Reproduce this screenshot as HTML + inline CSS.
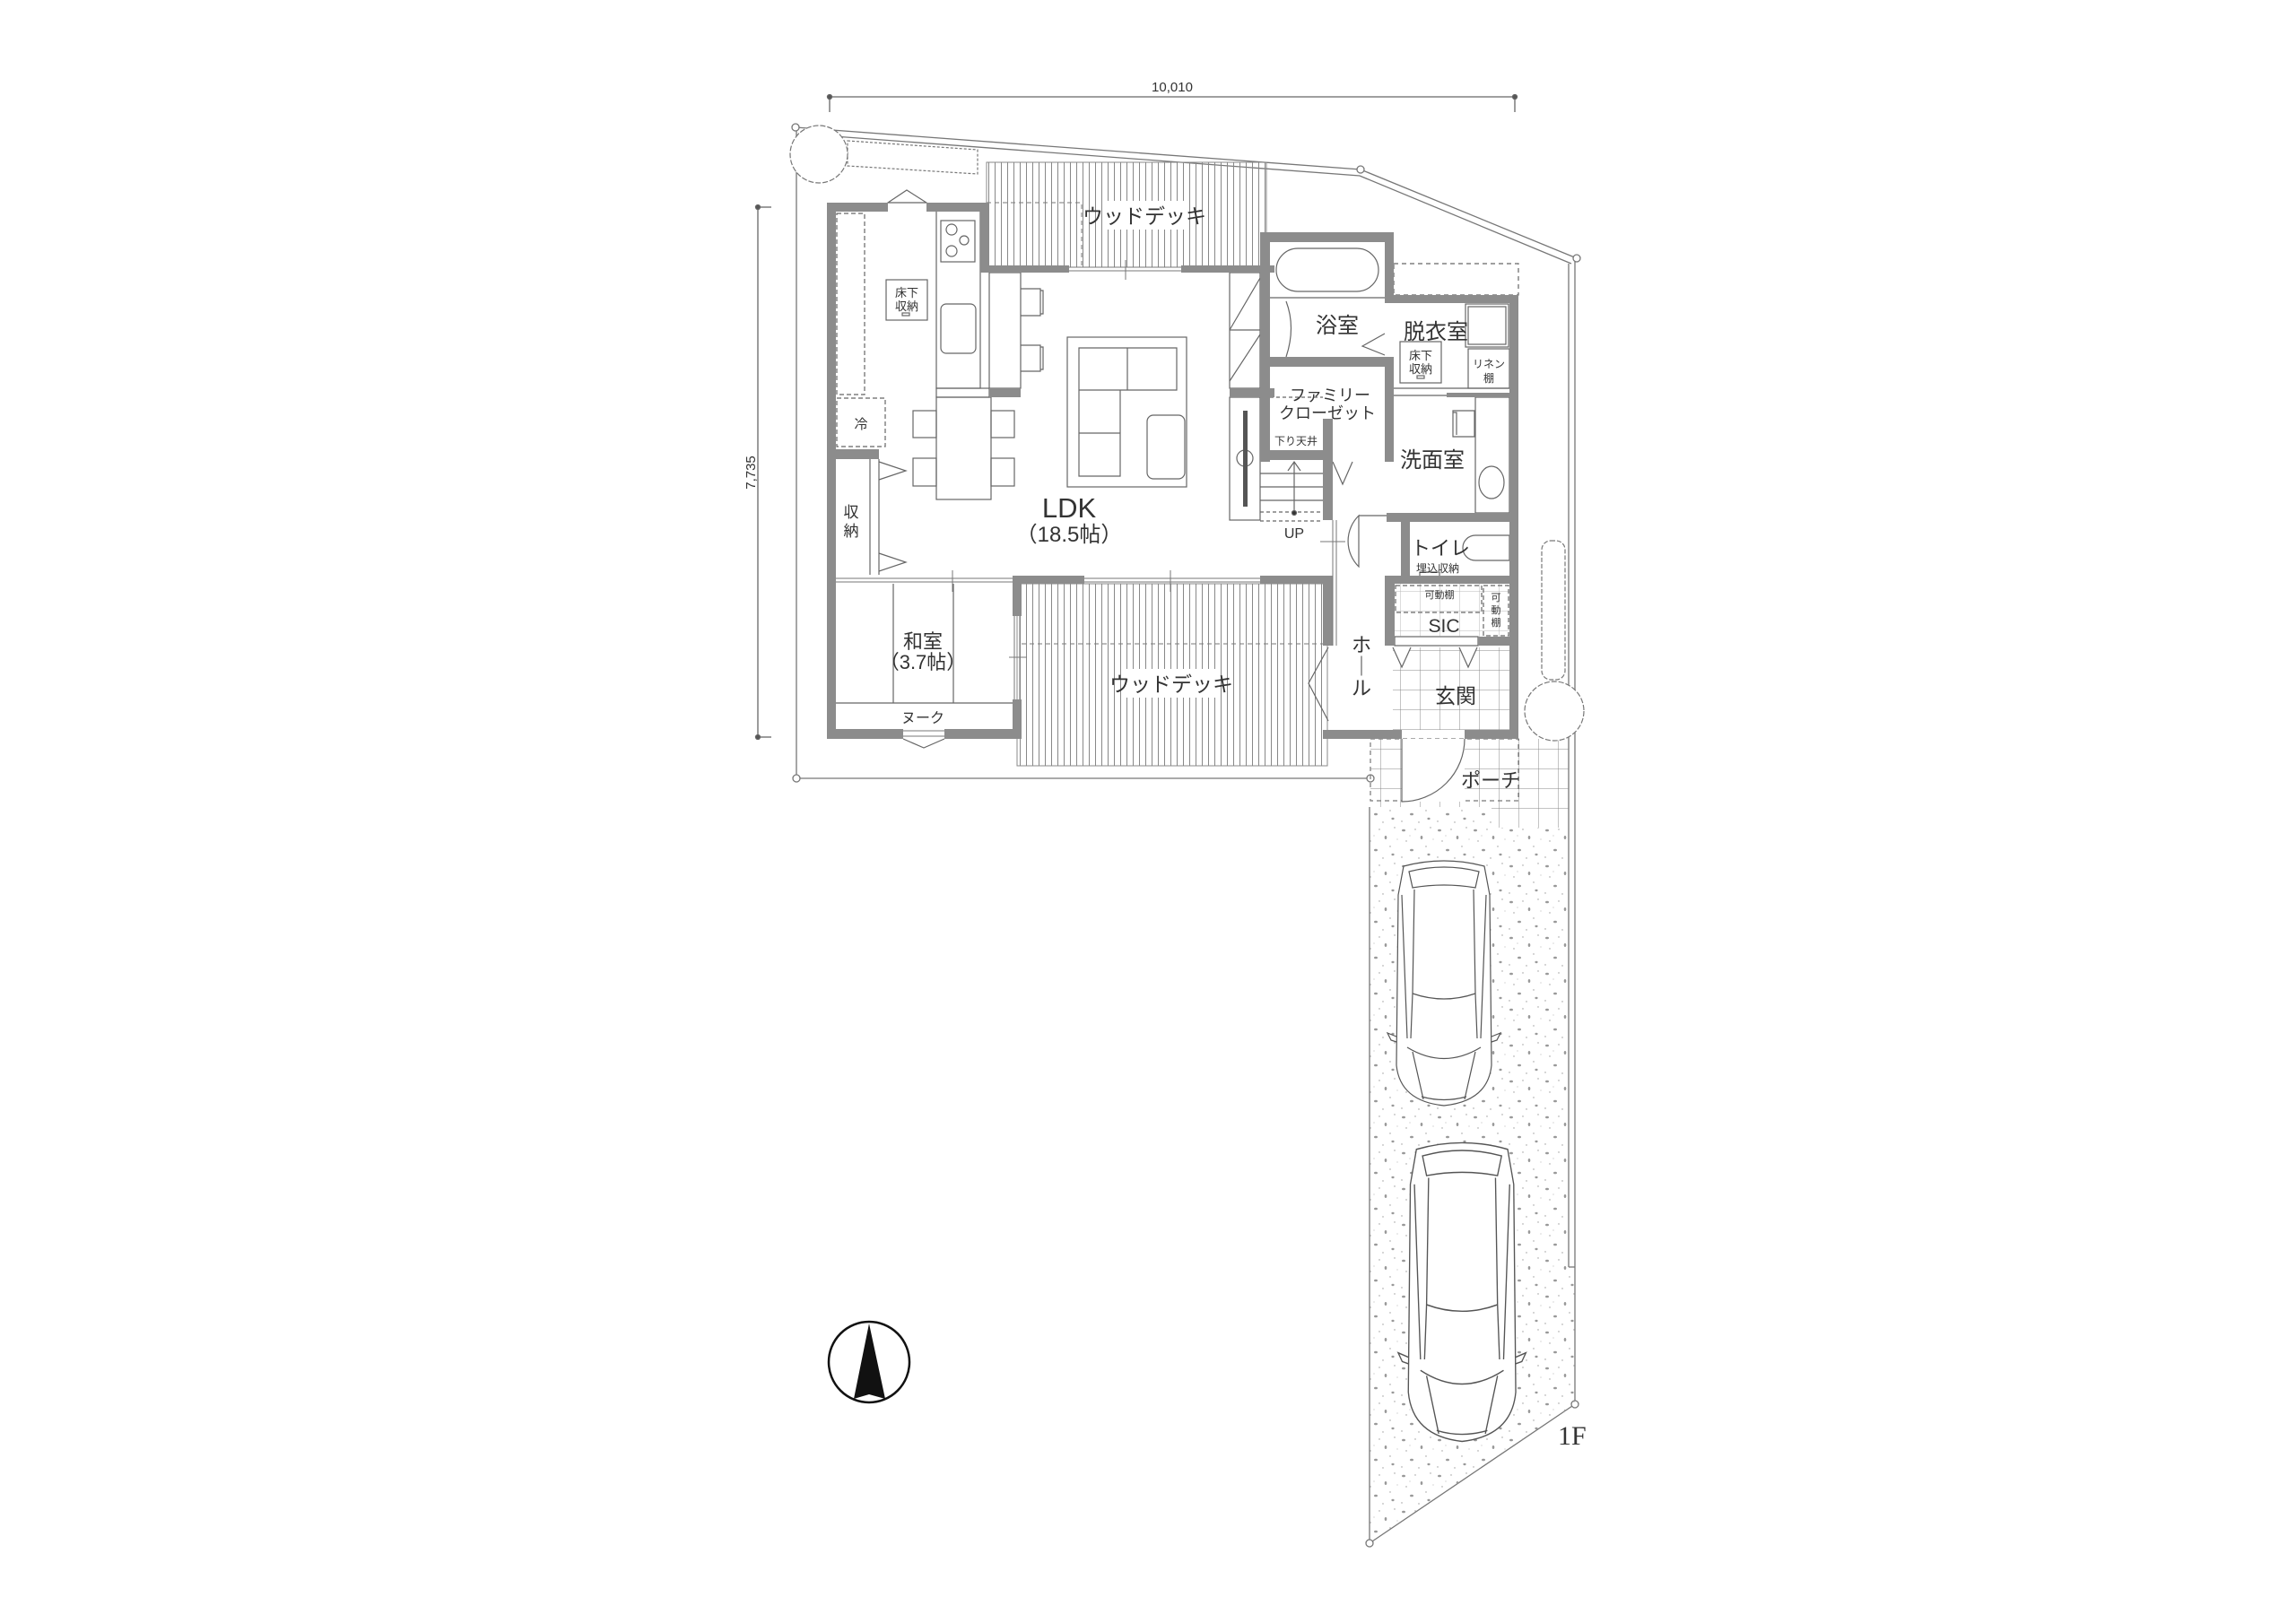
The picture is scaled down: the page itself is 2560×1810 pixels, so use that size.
<!DOCTYPE html>
<html><head><meta charset="utf-8"><style>
html,body{margin:0;padding:0;background:#fff}
svg{display:block}
text{font-family:"Liberation Sans","Noto Sans CJK JP",sans-serif;fill:#333}
</style></head><body>
<svg width="2560" height="1810" viewBox="0 0 2560 1810" xmlns="http://www.w3.org/2000/svg">
<defs>
<pattern id="deck" width="7" height="10" patternUnits="userSpaceOnUse"><line x1="3.5" y1="0" x2="3.5" y2="10" stroke="#888" stroke-width="1"/></pattern>
<pattern id="tile" width="22" height="22" patternUnits="userSpaceOnUse"><path d="M22 0V22M0 22H22" stroke="#888" stroke-width="1" fill="none"/></pattern>
<pattern id="grav" width="40" height="40" patternUnits="userSpaceOnUse">
<g fill="#999"><ellipse cx="5" cy="6" rx="2" ry="1.3"/><ellipse cx="25" cy="14" rx="1.3" ry="2"/><ellipse cx="14" cy="28" rx="2" ry="1.3"/><ellipse cx="33" cy="33" rx="1.6" ry="1.2"/><circle cx="18" cy="5" r=".7"/><circle cx="35" cy="3" r=".7"/><circle cx="8" cy="18" r=".7"/><circle cx="30" cy="24" r=".7"/><circle cx="3" cy="36" r=".7"/><circle cx="22" cy="37" r=".7"/><circle cx="12" cy="12" r=".5"/><circle cx="38" cy="16" r=".5"/></g></pattern>
<g id="car" stroke="#555" stroke-width="1.2">
<path d="M2 198 L-8 194 L-4 202 L8 206 M108 198 L118 194 L114 202 L102 206" fill="#fff"/>
<path d="M10 8 Q55 -4 100 8 L106 40 L108 230 Q104 270 55 275 Q6 270 2 230 L4 40 Z" fill="#fff"/>
<g fill="none">
<path d="M16 14 Q55 4 94 14 L90 32 Q55 26 20 32 Z"/>
<path d="M22 34 L20 150 L18 200 M88 34 L90 150 L92 200"/>
<path d="M20 150 Q55 162 90 150"/>
<path d="M14 210 Q55 235 96 210"/>
<path d="M8 40 L14 200 M102 40 L96 200"/>
<path d="M20 215 L32 268 M90 215 L78 268"/>
<path d="M30 265 Q55 272 80 265"/>
</g>
</g>
</defs>

<!-- dimensions -->
<g stroke="#666" stroke-width="1.3" fill="#555">
<line x1="925" y1="108" x2="1689" y2="108"/><line x1="925" y1="108" x2="925" y2="125"/><line x1="1689" y1="108" x2="1689" y2="125"/>
<circle cx="925" cy="108" r="2.5"/><circle cx="1689" cy="108" r="2.5"/>
<line x1="845" y1="231" x2="845" y2="822"/><line x1="845" y1="231" x2="860" y2="231"/><line x1="845" y1="822" x2="860" y2="822"/>
<circle cx="845" cy="231" r="2.5"/><circle cx="845" cy="822" r="2.5"/>
</g>
<text x="1307" y="102" font-size="15" text-anchor="middle">10,010</text>
<text x="0" y="0" font-size="15" text-anchor="middle" transform="translate(842,527) rotate(-90)">7,735</text>

<!-- site boundary -->
<g fill="none" stroke="#777" stroke-width="1.3">
<path d="M887 142 L1517 189 L1758 288"/>
<path d="M890 149 L1516 196 L1752 294"/>
<line x1="888" y1="142" x2="888" y2="868"/>
<line x1="888" y1="868" x2="1528" y2="868"/>
<line x1="1756" y1="288" x2="1756" y2="1566"/>
<line x1="1749" y1="294" x2="1749" y2="1413"/><line x1="1749" y1="1413" x2="1756" y2="1413"/>
<line x1="1756" y1="1566" x2="1527" y2="1721"/>
<line x1="1527" y1="900" x2="1527" y2="1721"/>
</g>
<g fill="#fff" stroke="#777" stroke-width="1.3">
<circle cx="887" cy="142" r="4"/><circle cx="1517" cy="189" r="4"/><circle cx="1758" cy="288" r="4"/>
<circle cx="888" cy="868" r="4"/><circle cx="1528" cy="868" r="4"/><circle cx="1756" cy="1566" r="4"/><circle cx="1527" cy="1721" r="4"/>
</g>

<!-- parking -->
<path d="M1527 900 L1663 900 L1663 923 L1749 923 L1749 1413 L1756 1413 L1756 1566 L1527 1721 Z" fill="url(#grav)"/>
<!-- porch -->
<rect x="1528" y="824" width="221" height="76" fill="url(#tile)"/>
<rect x="1663" y="900" width="86" height="23" fill="url(#tile)"/>
<rect x="1528" y="824" width="165" height="69" fill="none" stroke="#777" stroke-width="1.2" stroke-dasharray="5 4"/>
<rect x="1563" y="824" width="70" height="70" fill="#fff"/>
<path d="M1563 824 V894 A70 70 0 0 0 1633 824" fill="#fff" stroke="#666" stroke-width="1.2"/>

<!-- trees -->
<g fill="#fff" stroke="#777" stroke-width="1.2">
<path d="M945 157 L1090 167 L1090 194 L945 185 Z" stroke-dasharray="3 2"/>
<circle cx="913" cy="172" r="32" stroke-dasharray="6 2"/>
<rect x="1719" y="603" width="26" height="155" rx="10" stroke-dasharray="5 2"/>
<circle cx="1733" cy="793" r="33" stroke-dasharray="6 2"/>
</g>

<!-- decks -->
<rect x="1100" y="181" width="312" height="117" fill="url(#deck)" stroke="#888" stroke-width="1"/>
<path d="M1100 226 H1206 V296" fill="none" stroke="#777" stroke-dasharray="5 4"/>
<rect x="1230" y="224" width="92" height="32" fill="#fff"/>
<text x="1276" y="249" font-size="23" text-anchor="middle">ウッドデッキ</text>
<rect x="1134" y="651" width="346" height="203" fill="url(#deck)" stroke="#888" stroke-width="1"/>
<line x1="1139" y1="718" x2="1480" y2="718" stroke="#777" stroke-dasharray="5 4"/>
<rect x="1256" y="746" width="100" height="32" fill="#fff"/>
<text x="1306" y="771" font-size="23" text-anchor="middle">ウッドデッキ</text>

<!-- floor interior lines -->
<g fill="none" stroke="#666" stroke-width="1.2">
<rect x="1044" y="235" width="49" height="198"/>
<rect x="1049" y="246" width="38" height="46"/>
<circle cx="1061" cy="256" r="6"/><circle cx="1075" cy="268" r="5"/><circle cx="1061" cy="280" r="6"/>
<rect x="1049" y="339" width="39" height="55" rx="6"/>
<rect x="1044" y="433" width="59" height="10"/>
<rect x="1044" y="443" width="61" height="114"/>
<rect x="1103" y="304" width="35" height="129"/>
<path d="M1138 322 H1160 V352 H1138 M1160 324 H1163 V350 H1160 M1138 385 H1160 V414 H1138 M1160 387 H1163 V412 H1160"/>
<rect x="1018" y="458" width="26" height="30"/><rect x="1018" y="511" width="26" height="31"/>
<rect x="1105" y="458" width="26" height="30"/><rect x="1105" y="511" width="26" height="31"/>
<rect x="933" y="238" width="31" height="202" stroke-dasharray="5 3"/>
<rect x="933" y="444" width="54" height="54" stroke-dasharray="5 3"/>
<rect x="988" y="312" width="46" height="45"/>
<rect x="1006" y="349" width="8" height="3"/>
<rect x="1190" y="376" width="133" height="167"/>
<path d="M1203 388 H1312 V435 H1249 V531 H1203 Z M1257 388 V435 M1203 435 H1249 M1203 483 H1249"/>
<rect x="1279" y="463" width="42" height="71" rx="7"/>
<path d="M970 512 V641 M980 512 V641"/>
<path d="M980 515 L1010 525 L980 535 M980 617 L1010 627 L980 637"/>
<rect x="1371" y="304" width="34" height="129"/><path d="M1371 368 L1405 310 M1371 368 H1405 M1371 425 L1405 373"/>
<rect x="1371" y="443" width="34" height="137"/>
<circle cx="1388" cy="511" r="9"/>
<path d="M990 226 L1011 212 L1033 226 Z"/>
<path d="M996 651 V784 M1063 651 V784 M932 784 H1129"/>
<path d="M1007 824 L1030 834 L1053 824"/>
<rect x="1423" y="277" width="114" height="48" rx="24"/>
<line x1="1416" y1="332" x2="1544" y2="332"/>
<path d="M1434 336 Q1445 365 1434 398"/>
<path d="M1544 372 L1519 386 L1544 396"/>
<rect x="1554" y="294" width="139" height="35" stroke-dasharray="5 4"/>
<rect x="1634" y="339" width="48" height="48"/><rect x="1637" y="342" width="42" height="42"/>
<rect x="1637" y="389" width="46" height="44"/>
<rect x="1561" y="381" width="46" height="46"/><rect x="1580" y="419" width="8" height="3"/>
<path d="M1554 433 H1683 M1554 441 H1613"/>
<path d="M1416 443 H1475" stroke-dasharray="4 3"/>
<rect x="1645" y="443" width="38" height="129"/>
<ellipse cx="1663" cy="538" rx="14" ry="18"/>
<path d="M1620 458 H1644 V487 H1620 Z M1620 460 H1624 V485"/>
<path d="M1486 515 L1497 540 L1508 515"/>
<path d="M1405 528 H1475 M1405 543 H1475 M1405 558 H1475 M1443 515 V573 M1436 525 L1443 515 L1450 525"/>
<path d="M1405 571 H1475 M1405 581 H1475" stroke-dasharray="4 3"/>
<circle cx="1443" cy="572" r="2.5" fill="#333"/>
<path d="M1515 575 A40 40 0 0 0 1515 632 Z M1515 575 H1560"/>
<path d="M1481 722 L1459 762 L1481 804"/>
<path d="M1683 597 H1645 A14 14 0 0 0 1645 625 H1683 Z"/>
<rect x="1583" y="638" width="22" height="6"/>
<rect x="1556" y="653" width="96" height="30" stroke-dasharray="5 3"/>
<rect x="1654" y="653" width="28" height="56" stroke-dasharray="5 3"/>
<rect x="1555" y="710" width="93" height="10"/>
</g>
<rect x="1386" y="458" width="5" height="107" fill="#555"/>
<rect x="1555" y="651" width="128" height="59" fill="url(#tile)" opacity=".6"/>
<rect x="1553" y="722" width="130" height="92" fill="url(#tile)"/>
<path d="M1553 722 L1563 744 L1573 722 M1627 722 L1637 744 L1647 722" fill="#fff" stroke="#666" stroke-width="1.2"/>

<!-- walls -->
<g fill="#8c8c8c">
<rect x="922" y="226" width="68" height="10"/><rect x="1033" y="226" width="70" height="10"/>
<rect x="922" y="226" width="10" height="598"/>
<rect x="1093" y="226" width="10" height="78"/>
<rect x="1093" y="296" width="99" height="8"/><rect x="1317" y="296" width="104" height="8"/>
<rect x="932" y="501" width="48" height="11"/>
<rect x="1103" y="433" width="35" height="10"/>
<rect x="1371" y="433" width="50" height="10"/>
<rect x="1405" y="259" width="11" height="256"/>
<rect x="1405" y="259" width="149" height="11"/>
<rect x="1544" y="259" width="10" height="78"/>
<rect x="1544" y="329" width="149" height="9"/>
<rect x="1683" y="329" width="10" height="495"/>
<rect x="1405" y="398" width="149" height="11"/>
<rect x="1544" y="409" width="10" height="106"/>
<rect x="1405" y="502" width="80" height="11"/>
<rect x="1475" y="467" width="11" height="113"/>
<rect x="1613" y="438" width="70" height="5"/>
<rect x="1546" y="572" width="147" height="10"/>
<rect x="1562" y="573" width="10" height="77"/>
<rect x="1544" y="642" width="149" height="9"/>
<rect x="1544" y="642" width="11" height="78"/>
<rect x="1648" y="710" width="35" height="10"/>
<rect x="922" y="642" width="10" height="9"/>
<rect x="1129" y="642" width="80" height="9"/>
<rect x="1405" y="642" width="81" height="9"/>
<rect x="1475" y="642" width="11" height="78"/>
<rect x="1129" y="642" width="10" height="45"/><rect x="1129" y="780" width="10" height="44"/>
<rect x="922" y="813" width="85" height="11"/><rect x="1053" y="813" width="86" height="11"/>
<rect x="1475" y="814" width="88" height="10"/><rect x="1633" y="814" width="60" height="10"/>
</g>
<g fill="none" stroke="#777" stroke-width="1">
<path d="M1192 298 H1317 M1192 302 H1317 M1255 290 V312"/>
<path d="M932 645 H1129 M932 649 H1129 M1209 645 H1405 M1209 649 H1405 M1062 636 V660 M1305 636 V660"/>
<path d="M1131 687 V780 M1137 687 V780 M1125 733 H1145"/>
<path d="M1007 815 H1053 M1007 821 H1053"/>
<path d="M1486 580 V720 M1490 580 V720 M1472 604 H1500"/>
</g>

<!-- labels -->
<g text-anchor="middle">
<text x="1491" y="371" font-size="24">浴室</text>
<text x="1601" y="378" font-size="24">脱衣室</text>
<text x="1584" y="401" font-size="13">床下</text><text x="1584" y="416" font-size="13">収納</text>
<text x="1011" y="331" font-size="13">床下</text><text x="1011" y="346" font-size="13">収納</text>
<text x="1660" y="410" font-size="12">リネン</text><text x="1660" y="426" font-size="12">棚</text>
<text x="1483" y="447" font-size="18">ファミリー</text>
<text x="1480" y="467" font-size="18">クローゼット</text>
<text x="1445" y="496" font-size="12">下り天井</text>
<text x="1597" y="521" font-size="24">洗面室</text>
<text x="960" y="478" font-size="15">冷</text>
<text x="949" y="577" font-size="17">収</text><text x="949" y="598" font-size="17">納</text>
<text x="1192" y="577" font-size="31">LDK</text>
<text x="1192" y="604" font-size="24">（18.5帖）</text>
<text x="1443" y="600" font-size="16">UP</text>
<text x="1606" y="619" font-size="22">トイレ</text>
<text x="1603" y="638" font-size="12">埋込収納</text>
<text x="1605" y="667" font-size="11">可動棚</text>
<text x="1668" y="670" font-size="11">可</text><text x="1668" y="684" font-size="11">動</text><text x="1668" y="698" font-size="11">棚</text>
<text x="1610" y="705" font-size="21">SIC</text>
<text x="1518" y="727" font-size="22">ホ</text><text x="1518" y="751" font-size="22">｜</text><text x="1518" y="775" font-size="22">ル</text>
<text x="1623" y="784" font-size="23">玄関</text>
<text x="1029" y="723" font-size="22">和室</text>
<text x="1029" y="746" font-size="22">（3.7帖）</text>
<text x="1029" y="806" font-size="16">ヌーク</text>
<text x="1662" y="878" font-size="22">ポーチ</text>
</g>
<text x="1737" y="1611" font-size="30" style="font-family:'Liberation Serif',serif">1F</text>

<!-- cars -->
<use href="#car" transform="translate(1555,958)"/>
<use href="#car" transform="translate(1568,1272) scale(1.13,1.22)"/>

<!-- north arrow -->
<circle cx="969" cy="1519" r="45" fill="none" stroke="#111" stroke-width="2.5"/>
<path d="M969 1476 L952 1560 L969 1555 L987 1560 Z" fill="#111"/>
</svg>
</body></html>
